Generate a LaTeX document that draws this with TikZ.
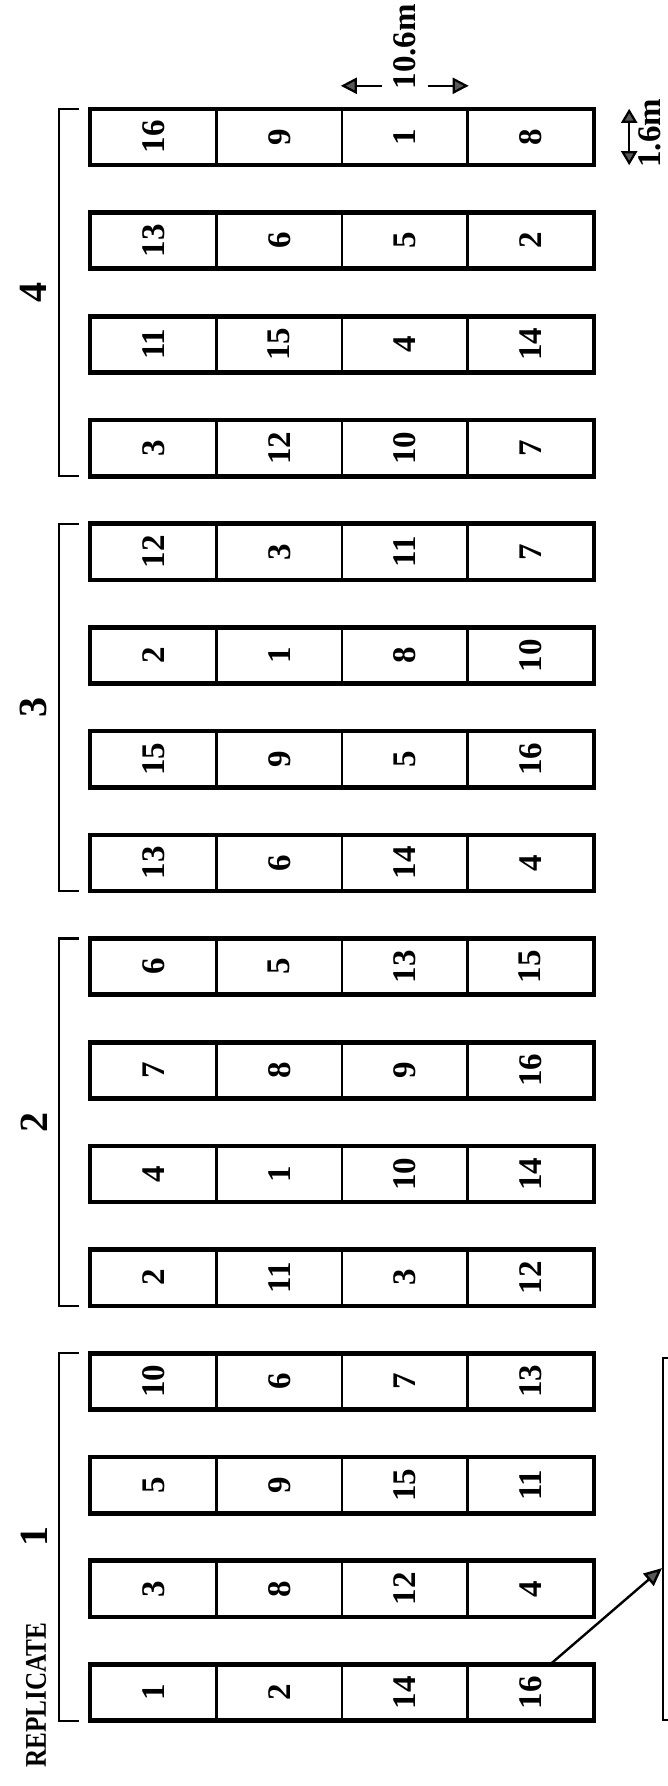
\documentclass[tikz,border=0pt]{standalone}
\usepackage{fontspec}
\setmainfont{Liberation Serif}
\usepackage{graphicx}
\usetikzlibrary{arrows.meta,positioning,calc}

\definecolor{tipgray}{gray}{0.35}

\begin{document}
\begin{tikzpicture}[
  x=0.5pt, y=-0.5pt,
  font=\bfseries\fontsize{16.5}{19}\selectfont,
  plot/.style={rectangle,draw,line width=1.2pt,minimum width=62.75pt,minimum height=27pt,inner sep=0pt},
  strip/.style={draw,line width=2.2pt},
  brace/.style={line width=1.1pt},
  replab/.style={inner sep=0pt,font=\bfseries\fontsize{20}{22}\selectfont},
  dim/.style={line width=1.1pt,-{Triangle[length=8pt,width=8pt,fill=tipgray]}},
  dimboth/.style={line width=1.1pt,{Triangle[length=7pt,width=8pt,fill=tipgray]}-{Triangle[length=7pt,width=8pt,fill=tipgray]}},
  pointer/.style={line width=1.2pt,-{Triangle[length=9pt,width=8pt,fill=tipgray]}}
]
\useasboundingbox (0,0) rectangle (668,1786);

% sixteen strips, four plots each (replicate 4 on top)
\foreach \row [count=\i from 0] in {{16,9,1,8},{13,6,5,2},{11,15,4,14},{3,12,10,7},
    {12,3,11,7},{2,1,8,10},{15,9,5,16},{13,6,14,4},
    {6,5,13,15},{7,8,9,16},{4,1,10,14},{2,11,3,12},
    {10,6,7,13},{5,9,15,11},{3,8,12,4},{1,2,14,16}} {
  \foreach \n [count=\c] in \row {
    \node[plot] (p\i-\c) at ({91+125.5*(\c-0.5)},{137+103.7*\i}) {\rotatebox{90}{\n}};
  }
  \draw[strip] (p\i-1.north west) rectangle (p\i-4.south east);
}

% replicate brackets
\foreach \r/\k/\m in {4/0/3,3/4/7,2/8/11,1/12/15} {
  \draw[brace] ([xshift=-5.5pt]p\k-1.north west) -- ([xshift=-15.5pt]p\k-1.north west)
    -- ([xshift=-15.5pt]p\m-1.south west) -- ([xshift=-5.5pt]p\m-1.south west);
  \node[replab] (rep\r) at ($(p\k-1.north west)!0.5!(p\m-1.south west)+(-56,0)$) {\rotatebox{90}{\r}};
}
\node[inner sep=0pt,font=\bfseries\fontsize{15}{17}\selectfont] (replicate) at (36,1695) {\rotatebox{90}{\scalebox{0.84}[1]{REPLICATE}}};

% plot length
\coordinate (wl) at ([yshift=11.5pt]p0-3.north west);
\coordinate (wr) at ([yshift=11.5pt]p0-3.north east);
\node[inner sep=0pt,anchor=south] (wlab) at ([yshift=9.5pt]p0-3.north) {\rotatebox{90}{10.6m}};
\draw[dim] ($(wl)+(41,0)$) -- (wl);
\draw[dim] ($(wr)+(-41,0)$) -- (wr);

% plot width
\coordinate (ht) at ([xshift=17.5pt]p0-4.north east);
\coordinate (hb) at ([xshift=17.5pt]p0-4.south east);
\draw[dimboth] (ht) -- (hb);
\node[inner sep=0pt,anchor=south] (hlab) at (650,168) {\rotatebox{90}{1.6m}};

% enlarged plot
\node[draw,line width=1.1pt,anchor=north west,minimum width=40pt,minimum height=181pt] (cage) at (662,1357) {};
\draw[pointer] ([xshift=10pt]p15-4.north) -- ([yshift=-14.5pt]cage.west);
\end{tikzpicture}
\end{document}
